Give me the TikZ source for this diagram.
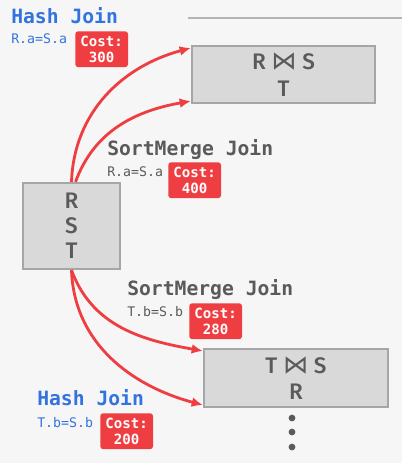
\documentclass[tikz,border=0pt]{standalone}
\usepackage{fontspec}
\setsansfont{Fira Sans}[UprightFont={* Medium}, BoldFont={* SemiBold}]
\setmonofont{DejaVu Sans Mono}
\newfontfamily\bowfont{DejaVu Sans}
\usepackage{xcolor}
\usepackage{tikz}
\usetikzlibrary{arrows.meta,positioning,calc}
\definecolor{bgGray}{HTML}{F6F6F6}
\definecolor{joinBlue}{HTML}{3273E0}
\definecolor{joinGray}{HTML}{5A5A5A}
\definecolor{costRed}{HTML}{EE3E42}
\definecolor{boxFill}{HTML}{D9D9D9}
\definecolor{boxLine}{HTML}{A6A6A6}
\definecolor{ruleGray}{HTML}{B4B4B4}
\newcommand{\jn}{\hspace{4pt}{\bowfont\fontsize{18}{18}\selectfont ⋈}\hspace{4pt}}

\begin{document}
\begin{tikzpicture}[
    x=0.025cm, y=-0.025cm,
    title/.style={font=\ttfamily\bfseries\fontsize{14}{16}\selectfont, inner sep=0pt, anchor=base west},
    pred/.style={font=\ttfamily\fontsize{9.4}{11}\selectfont, inner sep=0pt, anchor=base west},
    cost/.style={fill=costRed, text=white, rounded corners=2pt, align=center, inner sep=1pt, minimum width=37.5pt, minimum height=25.5pt, anchor=north west, font=\ttfamily\bfseries\fontsize{10}{11.5}\selectfont},
    tbl/.style={draw=boxLine, fill=boxFill, line width=1.5pt, text=joinGray, align=center, font=\sffamily\fontsize{16}{19}\selectfont},
    plan/.style={draw=costRed, line width=2pt, -{Latex[length=8pt,width=7pt]}}
  ]
    \fill[bgGray] (0,0) rectangle (402,463);
    \useasboundingbox (0,0) rectangle (402,463);
    \draw[ruleGray, line width=1.5pt] (188,18) -- (402,18);

    % tables
    \node[tbl, minimum width=4.575cm, minimum height=1.425cm] (rs) at (283.5,74.5) {R\jn S\\T};
    \node[tbl, minimum width=4.6cm, minimum height=1.45cm, font=\sffamily\fontsize{16}{18.4}\selectfont] (ts) at (296,378) {T\jn S\\R};
    \node[tbl, minimum width=2.425cm, minimum height=2.15cm, font=\sffamily\fontsize{16}{17.7}\selectfont] (rst) at (71.5,226) {R\\S\\T};

    % join labels
    \node[title, text=joinBlue] (hashRS) at (11,23) {Hash Join};
    \node[pred, text=joinBlue] (hashRSpred) at (11,43) {R.a=S.a};
    \node[cost] (hashRScost) at (75,31) {Cost:\\300};

    \node[title, text=joinGray] (smRS) at (107,155) {SortMerge Join};
    \node[pred, text=joinGray] (smRSpred) at (107,176) {R.a=S.a};
    \node[cost] (smRScost) at (168,162) {Cost:\\400};

    \node[title, text=joinGray] (smTS) at (127,295) {SortMerge Join};
    \node[pred, text=joinGray] (smTSpred) at (127,316) {T.b=S.b};
    \node[cost] (smTScost) at (189,303) {Cost:\\280};

    \node[title, text=joinBlue] (hashTS) at (37,405) {Hash Join};
    \node[pred, text=joinBlue] (hashTSpred) at (37,427) {T.b=S.b};
    \node[cost] (hashTScost) at (100,413) {Cost:\\200};

    % plans
    \draw[plan] (rst.north) to[out=88, in=195] ([yshift=-0.075cm]rs.north west);
    \draw[plan] ([xshift=0.1cm]rst.north) to[out=70, in=190] ([yshift=0.075cm]rs.south west);
    \draw[plan] (rst.south) to[out=-70, in=170] ([yshift=-0.075cm]ts.north west);
    \draw[plan] (rst.south) to[out=-88, in=165] ([yshift=0.075cm]ts.south west);

    \foreach \dy in {418,432,447}
      \fill[joinGray] (292,\dy) circle (2.4pt);
\end{tikzpicture}
\end{document}
